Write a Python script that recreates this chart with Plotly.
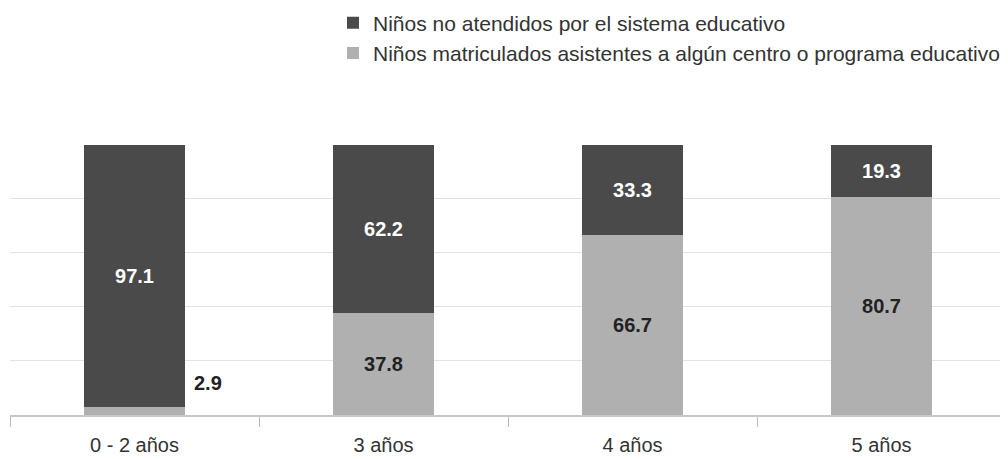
import plotly.graph_objects as go

categories = ["0 - 2 años", "3 años", "4 años", "5 años"]
no_atendidos = [97.1, 62.2, 33.3, 19.3]
matriculados = [2.9, 37.8, 66.7, 80.7]
name_dark = "Niños no atendidos por el sistema educativo"
name_light = "Niños matriculados asistentes a algún centro o programa educativo"

dark = "#4a4a4a"
light = "#b0b0b0"
FONT = "Liberation Sans"

fig = go.Figure()
light_text = [f"{v:.1f}" if v > 5 else "" for v in matriculados]
fig.add_trace(go.Bar(
    x=categories, y=matriculados, name=name_light, marker=dict(color=light, line=dict(width=0)),
    text=light_text, textposition="inside", insidetextanchor="middle",
    textfont=dict(color="#222222", size=20, family=FONT, weight="bold"),
    hoverinfo="skip",
))
fig.add_trace(go.Bar(
    x=categories, y=no_atendidos, name=name_dark, marker=dict(color=dark, line=dict(width=0)),
    text=[f"{v:.1f}" for v in no_atendidos], textposition="inside", insidetextanchor="middle",
    textfont=dict(color="#ffffff", size=20, family=FONT, weight="bold"),
    hoverinfo="skip",
))
for c, v in zip(categories, matriculados):
    if v <= 5:
        fig.add_annotation(x=c, y=v, text=f"<b>{v:.1f}</b>", showarrow=False,
                           xshift=73, yshift=24,
                           font=dict(color="#222222", size=20, family=FONT))

fig.update_layout(
    width=1008, height=459,
    barmode="stack", bargap=0.595,
    plot_bgcolor="white", paper_bgcolor="white",
    margin=dict(l=2, r=10, t=136, b=52, autoexpand=False),
    font=dict(family=FONT, color="#333333", size=20),
    uniformtext=dict(minsize=8, mode="show"),
    legend=dict(
        traceorder="reversed", orientation="v",
        x=0.3243, xanchor="left", y=1.522, yanchor="top",
        font=dict(size=21, color="#333333", family=FONT),
        itemwidth=30,
        bgcolor="rgba(0,0,0,0)",
    ),
    xaxis=dict(
        showgrid=False, ticks="outside", tickson="boundaries", ticklen=10,
        tickcolor="#bbbbbb", showline=True, linecolor="#c8c8c8", linewidth=2,
        tickfont=dict(size=20, color="#333333"), range=[-0.5, 3.5],
        ticklabelstandoff=11,
    ),
    yaxis=dict(
        range=[0, 100.3], tickvals=[0, 20, 40, 60, 80, 100], showticklabels=False, showgrid=True,
        gridcolor="#e3e3e3", gridwidth=1, zeroline=False, fixedrange=True,
    ),
)

fig.write_html("out.html")
